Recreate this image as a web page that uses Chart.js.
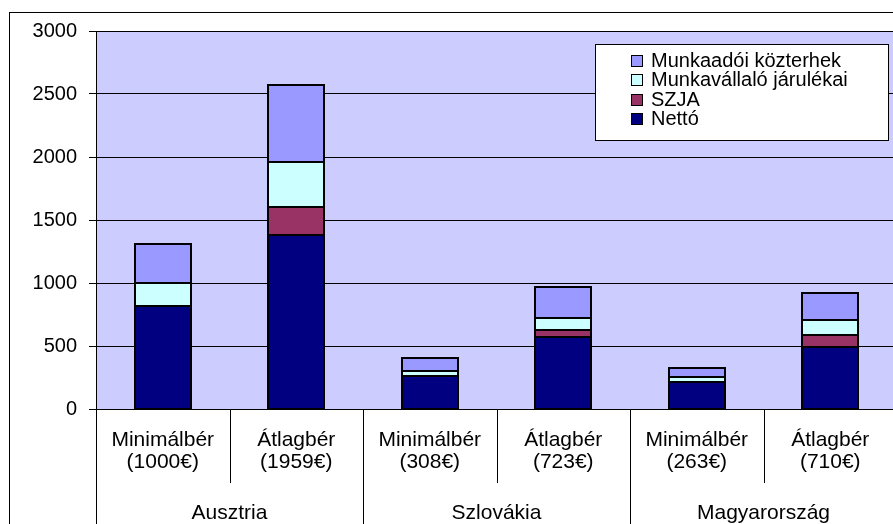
<!DOCTYPE html>
<html>
<head>
<meta charset="utf-8">
<script src="https://cdn.jsdelivr.net/npm/chart.js@4.4.1/dist/chart.umd.min.js"></script>
<style>
  html, body { margin: 0; padding: 0; background: #ffffff; overflow: hidden; }
  canvas { display: block; }
</style>
</head>
<body>
<canvas id="chart" width="910" height="540" style="width:910px;height:540px"></canvas>
<script>
/* ---- data ---- */
const categories = [
  ['Minimálbér', '(1000€)'], ['Átlagbér', '(1959€)'],
  ['Minimálbér', '(308€)'],  ['Átlagbér', '(723€)'],
  ['Minimálbér', '(263€)'],  ['Átlagbér', '(710€)'],
];
const countries = ['Ausztria', 'Szlovákia', 'Magyarország'];
const perCountry = 2;

const netto        = [817, 1381, 260, 571, 214, 490];
const szja         = [0,   220,  0,   56,  0,   95];
const munkavallalo = [180, 358,  44,  94,  40,  122];
const munkaadoi    = [312, 615,  104, 250, 69,  211];

const yTicks = [0, 500, 1000, 1500, 2000, 2500, 3000];

/* ---- style ---- */
const FONT = '"Liberation Sans", Arial, sans-serif';
const PLOT_BG = '#CCCCFF';

const frameAndLabels = {
  id: 'frameAndLabels',
  beforeDraw(chart) {
    const { ctx, chartArea: a } = chart;
    ctx.save();
    ctx.fillStyle = '#ffffff';
    ctx.fillRect(0, 0, chart.width, chart.height);
    // outer frame
    ctx.strokeStyle = '#000000';
    ctx.lineWidth = 1;
    ctx.strokeRect(9.5, 12.5, chart.width + 20, chart.height + 20);
    // plot background
    ctx.fillStyle = PLOT_BG;
    ctx.fillRect(a.left, a.top, a.right - a.left, a.bottom - a.top);
    ctx.strokeStyle = '#808080';
    ctx.strokeRect(a.left + 0.5, a.top + 0.5, a.right - a.left, a.bottom - a.top);
    ctx.restore();
  },
  afterDatasetsDraw(chart) {
    // crisp black outline round every segment
    const { ctx } = chart;
    ctx.save();
    ctx.strokeStyle = '#000000';
    ctx.lineWidth = 2;
    chart.data.datasets.forEach((ds, di) => {
      chart.getDatasetMeta(di).data.forEach(bar => {
        const p = bar.getProps(['x', 'y', 'base', 'width'], true);
        const l = Math.round(p.x - p.width / 2);
        const r = Math.round(p.x + p.width / 2);
        const t = Math.round(Math.min(p.y, p.base));
        const b = Math.round(Math.max(p.y, p.base));
        ctx.strokeRect(l, t, r - l, b - t);
      });
    });
    ctx.restore();
  },
  afterDraw(chart) {
    const { ctx, chartArea: a } = chart;
    const x = chart.scales.x;
    const half = (x.getPixelForValue(1) - x.getPixelForValue(0)) / 2;
    ctx.save();
    ctx.strokeStyle = '#000000';
    ctx.lineWidth = 1;
    ctx.fillStyle = '#000000';
    ctx.textAlign = 'center';
    ctx.textBaseline = 'middle';

    // category separators and labels
    ctx.font = '21px ' + FONT;
    categories.forEach((lines, i) => {
      const cx = x.getPixelForValue(i);
      const edge = Math.round(cx - half) + 0.5;
      const long = i % perCountry === 0;
      ctx.beginPath();
      ctx.moveTo(edge, a.bottom);
      ctx.lineTo(edge, long ? chart.height : a.bottom + 74);
      ctx.stroke();
      ctx.fillText(lines[0], cx, a.bottom + 31);
      ctx.fillText(lines[1], cx, a.bottom + 53);
    });
    const lastEdge = Math.round(x.getPixelForValue(categories.length - 1) + half) + 0.5;
    ctx.beginPath();
    ctx.moveTo(lastEdge, a.bottom);
    ctx.lineTo(lastEdge, chart.height);
    ctx.stroke();

    // country labels
    countries.forEach((name, g) => {
      const first = x.getPixelForValue(g * perCountry);
      const last = x.getPixelForValue(g * perCountry + perCountry - 1);
      ctx.fillText(name, (first + last) / 2, a.bottom + 104);
    });

    // legend (top series first)
    const lx = 595.5, ly = 44.5, lw = 293, lh = 96;
    ctx.fillStyle = '#ffffff';
    ctx.fillRect(lx, ly, lw, lh);
    ctx.strokeRect(lx, ly, lw, lh);
    ctx.font = '20px ' + FONT;
    ctx.textAlign = 'left';
    const items = chart.data.datasets.slice().reverse();
    items.forEach((ds, i) => {
      const cy = 60 + i * 19.5;
      ctx.fillStyle = ds.backgroundColor;
      ctx.fillRect(631.5, Math.round(cy - 5.5) + 0.5, 11, 11);
      ctx.strokeStyle = '#000000';
      ctx.strokeRect(631.5, Math.round(cy - 5.5) + 0.5, 11, 11);
      ctx.fillStyle = '#000000';
      ctx.fillText(ds.label, 651, cy + 1);
    });
    ctx.restore();
  },
};

function segment(label, data, color) {
  return {
    label,
    data,
    backgroundColor: color,
    borderWidth: 0,
    inflateAmount: 0,
    barPercentage: 0.42,
    categoryPercentage: 1,
  };
}

new Chart(document.getElementById('chart').getContext('2d'), {
  type: 'bar',
  data: {
    labels: categories,
    datasets: [
      segment('Nettó', netto, '#000080'),
      segment('SZJA', szja, '#993366'),
      segment('Munkavállaló járulékai', munkavallalo, '#CCFFFF'),
      segment('Munkaadói közterhek', munkaadoi, '#9999FF'),
    ],
  },
  options: {
    responsive: false,
    animation: false,
    layout: { padding: { left: 0, top: 31, right: 13, bottom: 0 } },
    plugins: { legend: { display: false }, tooltip: { enabled: false } },
    scales: {
      x: {
        stacked: true,
        grid: { display: false },
        border: { display: true, color: '#000000', width: 1 },
        ticks: { display: false },
        afterFit(scale) { scale.height = 131; },
      },
      y: {
        stacked: true,
        min: yTicks[0],
        max: yTicks[yTicks.length - 1],
        afterBuildTicks(scale) { scale.ticks = yTicks.map(v => ({ value: v })); },
        grid: { color: '#000000', lineWidth: 1, tickLength: 7, drawOnChartArea: true },
        border: { display: true, color: '#000000', width: 1 },
        ticks: {
          color: '#000000',
          font: { family: FONT, size: 20 },
          padding: 12,
          callback: v => String(v),
        },
        afterFit(scale) { scale.width = 96; },
      },
    },
  },
  plugins: [frameAndLabels],
});
</script>
</body>
</html>
